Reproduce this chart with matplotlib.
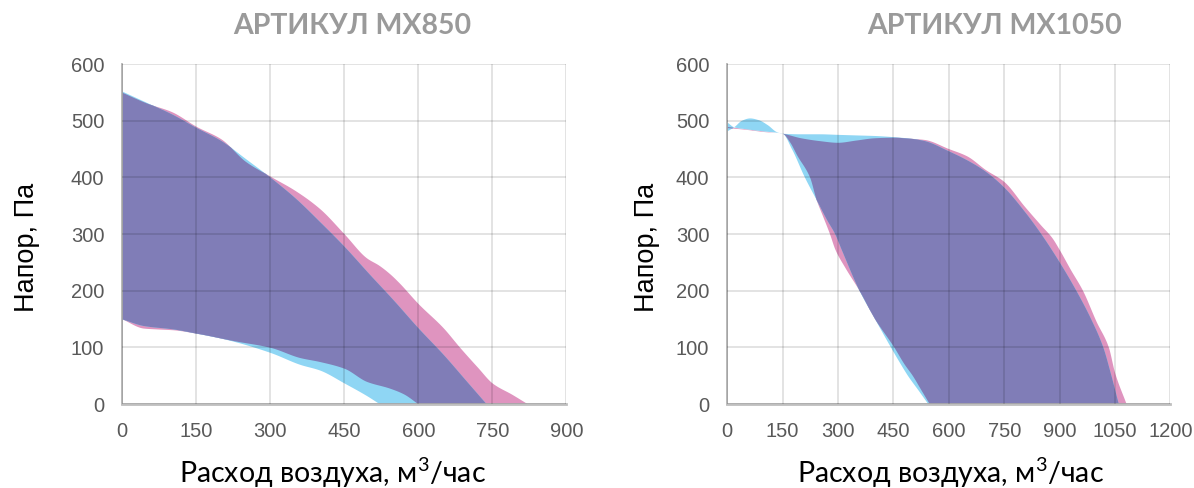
import numpy as np
import matplotlib
matplotlib.use("Agg")
import matplotlib.pyplot as plt

plt.rcParams['font.family'] = ['Liberation Sans', 'DejaVu Sans']
plt.rcParams['mathtext.fontset'] = 'custom'
plt.rcParams['mathtext.rm'] = 'Lato'
plt.rcParams['mathtext.it'] = 'Lato'

# ---------------- data ----------------
titles = ["АРТИКУЛ MX850", "АРТИКУЛ MX1050"]
xlabel = "Расход воздуха, м$^3$/час"
ylabel = "Напор, Па"
xticks_850 = [0, 150, 300, 450, 600, 750, 900]
xticks_1050 = [0, 150, 300, 450, 600, 750, 900, 1050, 1200]
yticks = [0, 100, 200, 300, 400, 500, 600]

# MX850
mx850_pink_up_x = [0, 50, 100, 150, 200, 250, 300, 350, 400, 450, 495, 520, 542, 560, 600, 650, 684, 720, 750, 790, 822]
mx850_pink_up_y = [550, 531, 516, 490, 468, 428, 402, 377, 345, 300, 258, 245, 230, 215, 177, 135, 100, 65, 37, 17, 0]
mx850_pink_lo_x = [0, 43, 70, 103, 150, 225, 300, 360, 400, 450, 495, 542, 570, 600]
mx850_pink_lo_y = [150, 134, 132.5, 131, 125, 112, 100, 82, 75, 63, 40, 28, 18, 0]
mx850_blue_up_x = [0, 50, 100, 150, 200, 250, 300, 350, 400, 450, 500, 550, 600, 650, 700, 738]
mx850_blue_up_y = [552, 532, 512, 488, 465, 433, 400, 364, 322, 278, 230, 183, 134, 88, 38, 0]
mx850_blue_lo_x = [0, 43, 103, 150, 211, 300, 360, 400, 450, 495, 522]
mx850_blue_lo_y = [150, 138.5, 132.5, 125, 114, 91, 70, 60, 37, 15, 0]

# MX1050
mx1050_pink_up_x = [0, 50, 100, 150, 200, 250, 300, 350, 400, 450, 500, 535, 600, 650, 700, 750, 806, 850, 880, 900, 930, 963, 1000, 1033, 1050, 1081]
mx1050_pink_up_y = [489, 485, 481, 477, 469, 464, 461, 465, 469, 470, 468, 466, 450, 437, 413, 392, 348, 315, 293, 272, 237, 200, 145, 100, 55, 0]
mx1050_pink_lo_x = [0, 50, 100, 150, 170, 190, 224, 242, 260, 278, 293, 320, 358, 400, 452, 480, 502, 525, 548]
mx1050_pink_lo_y = [487, 484, 480, 477, 462, 438, 400, 360, 330, 300, 272, 240, 200, 150, 100, 70, 50, 25, 0]
mx1050_blue_up_x = [0, 20, 40, 62, 85, 110, 134, 150, 200, 250, 300, 350, 400, 450, 500, 535, 600, 650, 700, 750, 806, 850, 900, 945, 985, 1018, 1040, 1060]
mx1050_blue_up_y = [481, 489, 500, 504, 501, 492, 480, 477, 476, 476, 475, 474, 473, 471, 468, 464, 446, 430, 410, 382, 339, 300, 250, 200, 150, 100, 50, 0]
mx1050_blue_lo_x = [0, 20, 50, 100, 150, 175, 210, 242, 270, 292, 310, 358, 400, 443, 470, 489, 520, 544]
mx1050_blue_lo_y = [497, 488, 485, 481, 477, 450, 400, 360, 325, 300, 272, 200, 150, 100, 70, 50, 22, 0]

PINK = '#df94bf'
BLUE = '#8fd6f4'
PURPLE = '#807db7'


def pchip(x, y, xn):
    x = np.asarray(x, float)
    y = np.asarray(y, float)
    h = np.diff(x)
    d = np.diff(y) / h
    n = len(x)
    m = np.zeros(n)
    for k in range(1, n - 1):
        if d[k - 1] * d[k] > 0:
            w1 = 2 * h[k] + h[k - 1]
            w2 = h[k] + 2 * h[k - 1]
            m[k] = (w1 + w2) / (w1 / d[k - 1] + w2 / d[k])
    m[0] = d[0]
    m[-1] = d[-1]
    xn = np.asarray(xn, float)
    out = np.empty_like(xn)
    idx = np.clip(np.searchsorted(x, xn, side='right') - 1, 0, n - 2)
    t = (xn - x[idx]) / h[idx]
    h00 = 2 * t**3 - 3 * t**2 + 1
    h10 = t**3 - 2 * t**2 + t
    h01 = -2 * t**3 + 3 * t**2
    h11 = t**3 - t**2
    out = h00 * y[idx] + h10 * h[idx] * m[idx] + h01 * y[idx + 1] + h11 * h[idx] * m[idx + 1]
    out[xn > x[-1]] = y[-1]
    out[xn < x[0]] = y[0]
    return np.maximum(out, 0)


def draw(ax, pux, puy, plx, ply, bux, buy, blx, bly, xmax, xt):
    allx = np.unique(np.concatenate([pux, plx, bux, blx, np.linspace(0, xmax, 4000)]))
    pu = pchip(pux, puy, allx)
    pl = pchip(plx, ply, allx)
    bu = pchip(bux, buy, allx)
    bl = pchip(blx, bly, allx)
    p_lo, p_hi = np.minimum(pu, pl), np.maximum(pu, pl)
    b_lo, b_hi = np.minimum(bu, bl), np.maximum(bu, bl)
    ax.fill_between(allx, p_lo, p_hi, where=p_hi > p_lo, color=PINK, lw=0, zorder=1, interpolate=True)
    ax.fill_between(allx, b_lo, b_hi, where=b_hi > b_lo, color=BLUE, lw=0, zorder=1.1, interpolate=True)
    i_lo = np.maximum(p_lo, b_lo)
    i_hi = np.minimum(p_hi, b_hi)
    ax.fill_between(allx, i_lo, np.maximum(i_hi, i_lo), where=i_hi > i_lo, color=PURPLE, lw=0,
                    zorder=1.2, interpolate=True)

    ax.set_xlim(0, xmax)
    ax.set_ylim(0, 600)
    ax.set_xticks(xt)
    ax.set_yticks(yticks)
    ax.set_axisbelow(False)
    ax.grid(True, color='black', alpha=0.13, lw=1.2)
    for s in ['top', 'right']:
        ax.spines[s].set_visible(False)
    ax.spines['left'].set_color('#b3b3b3')
    ax.spines['left'].set_linewidth(1.3)
    ax.spines['bottom'].set_color('#bfbfbf')
    ax.spines['bottom'].set_linewidth(2)
    ax.tick_params(length=0, pad=13, labelsize=14.5, labelcolor='#595959')


fig = plt.figure(figsize=(11.94, 4.88), dpi=100)
ax1 = fig.add_axes([0.1024, 0.1721, 0.3719, 0.6967])
ax2 = fig.add_axes([0.6091, 0.1721, 0.3712, 0.6967])

draw(ax1, mx850_pink_up_x, mx850_pink_up_y, mx850_pink_lo_x, mx850_pink_lo_y,
     mx850_blue_up_x, mx850_blue_up_y, mx850_blue_lo_x, mx850_blue_lo_y, 900, xticks_850)
draw(ax2, mx1050_pink_up_x, mx1050_pink_up_y, mx1050_pink_lo_x, mx1050_pink_lo_y,
     mx1050_blue_up_x, mx1050_blue_up_y, mx1050_blue_lo_x, mx1050_blue_lo_y, 1200, xticks_1050)

tfont = ['Lato', 'DejaVu Sans']
fig.text(352 / 1194, 1 - 26 / 488, titles[0], ha='center', va='center', fontsize=20.5,
         fontweight='bold', color='#9a9a9a', family=tfont)
fig.text(995 / 1194, 1 - 26 / 488, titles[1], ha='center', va='center', fontsize=20.5,
         fontweight='bold', color='#9a9a9a', family=tfont)

for cx in (333 / 1194, 951 / 1194):
    fig.text(cx, 1 - 483 / 488, xlabel, ha='center', va='baseline', fontsize=20.5,
             color='black', family=tfont)
for cx in (27 / 1194, 647 / 1194):
    fig.text(cx, 1 - 247 / 488, ylabel, ha='center', va='center', rotation=90,
             fontsize=19.5, color='black')

fig.savefig('out.png', dpi=100, facecolor='white')
